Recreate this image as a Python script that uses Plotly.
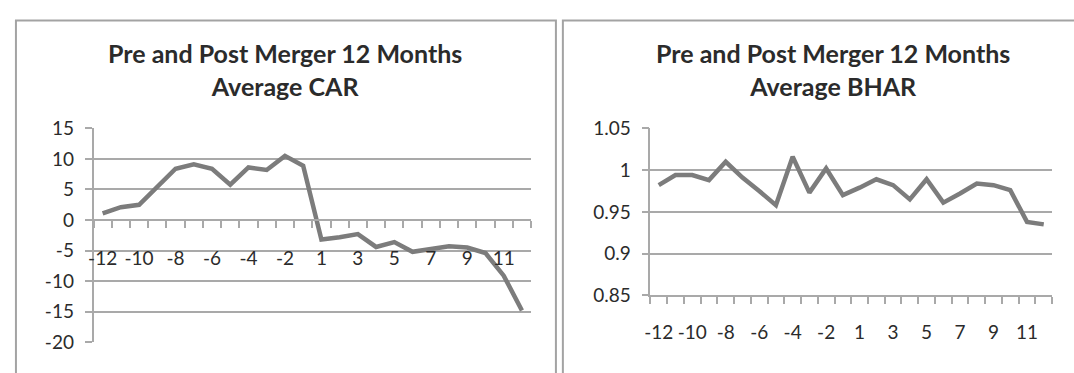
import plotly.graph_objects as go

# ---------------- data ----------------
months = ["-12", "-11", "-10", "-9", "-8", "-7", "-6", "-5", "-4", "-3", "-2", "-1",
          "1", "2", "3", "4", "5", "6", "7", "8", "9", "10", "11", "12"]
car = [1.1, 2.1, 2.5, 5.4, 8.4, 9.1, 8.4, 5.8, 8.6, 8.2, 10.5, 8.9,
       -3.2, -2.8, -2.3, -4.4, -3.6, -5.2, -4.8, -4.3, -4.5, -5.4, -9.1, -14.8]
bhar = [0.982, 0.994, 0.994, 0.988, 1.010, 0.991, 0.975, 0.958, 1.016, 0.973, 1.002, 0.970,
        0.979, 0.989, 0.982, 0.965, 0.989, 0.961, 0.972, 0.984, 0.982, 0.976, 0.938, 0.935]
tick_labels = [m if i % 2 == 0 else "" for i, m in enumerate(months)]
car_ticks = [-20, -15, -10, -5, 0, 5, 10, 15]
car_ticktext = ["-20", "-15", "-10", "-5", "0", "5", "10", "15"]
bhar_ticks = [0.85, 0.9, 0.95, 1.0, 1.05]
bhar_ticktext = ["0.85", "0.9", "0.95", "1", "1.05"]
title_car = "Pre and Post Merger 12 Months<br>Average CAR"
title_bhar = "Pre and Post Merger 12 Months<br>Average BHAR"

# ---------------- layout helpers ----------------
W, H = 1074, 373
def px_x(p):
    return p / W
def px_y(p):
    return 1 - p / H

LINE = "#7c7c7c"
GRID = "#a9a9a9"
TXT = "#2b2b2b"
FONT = "Lato"

fig = go.Figure()
fig.add_trace(go.Scatter(x=months, y=car, mode="lines", xaxis="x", yaxis="y",
                         line=dict(color=LINE, width=4.5), showlegend=False))
fig.add_trace(go.Scatter(x=months, y=bhar, mode="lines", xaxis="x2", yaxis="y2",
                         line=dict(color=LINE, width=4.5), showlegend=False))

y_top_l, y_bot_l = 124, 352
zero_px = y_top_l + (15 - 0) / 35 * (y_bot_l - y_top_l)

common_x = dict(type="category", categoryorder="array", categoryarray=months,
                tickmode="array", tickvals=months, ticktext=tick_labels, tickangle=0,
                tickson="boundaries", ticks="outside", ticklen=7, tickwidth=1.5,
                tickcolor=GRID, showline=True, linecolor=GRID, linewidth=1.5,
                showgrid=False, zeroline=False,
                tickfont=dict(family=FONT, size=19, color=TXT), fixedrange=True)
common_y = dict(showline=True, linecolor=GRID, linewidth=1.5, showgrid=True,
                gridcolor=GRID, gridwidth=1.5, ticks="outside", ticklen=7,
                tickwidth=1.5, tickcolor=GRID, zeroline=False, ticklabelstandoff=7,
                tickfont=dict(family=FONT, size=19, color=TXT), fixedrange=True)

fig.update_layout(
    width=W, height=H,
    margin=dict(l=0, r=0, t=0, b=0),
    paper_bgcolor="white", plot_bgcolor="white",
    xaxis=dict(common_x, domain=[px_x(88), px_x(528)], anchor="free",
               position=px_y(zero_px), range=[-0.5, 23.5], ticklabelstandoff=21),
    yaxis=dict(common_y, domain=[px_y(y_bot_l), px_y(y_top_l)], anchor="x",
               range=[-20, 15], tickvals=car_ticks, ticktext=car_ticktext),
    xaxis2=dict(common_x, domain=[px_x(648), px_x(1052)], anchor="y2",
                range=[-0.5, 23.5], ticklabelstandoff=19),
    yaxis2=dict(common_y, domain=[px_y(302), px_y(124)], anchor="x2",
                range=[0.85, 1.05], tickvals=bhar_ticks, ticktext=bhar_ticktext),
    shapes=[
        dict(type="rect", xref="paper", yref="paper", x0=px_x(10), x1=px_x(553),
             y0=-0.2, y1=px_y(9), line=dict(color="#a3a3a3", width=2)),
        dict(type="rect", xref="paper", yref="paper", x0=px_x(560), x1=px_x(1110),
             y0=-0.2, y1=px_y(9), line=dict(color="#a3a3a3", width=2)),
    ],
    annotations=[
        dict(text=title_car, xref="paper", yref="paper", x=px_x(281), y=px_y(26),
             xanchor="center", yanchor="top", showarrow=False,
             font=dict(family=FONT, size=25, color=TXT, weight="bold")),
        dict(text=title_bhar, xref="paper", yref="paper", x=px_x(832), y=px_y(26),
             xanchor="center", yanchor="top", showarrow=False,
             font=dict(family=FONT, size=25, color=TXT, weight="bold")),
    ],
)

fig.write_html("out.html")
